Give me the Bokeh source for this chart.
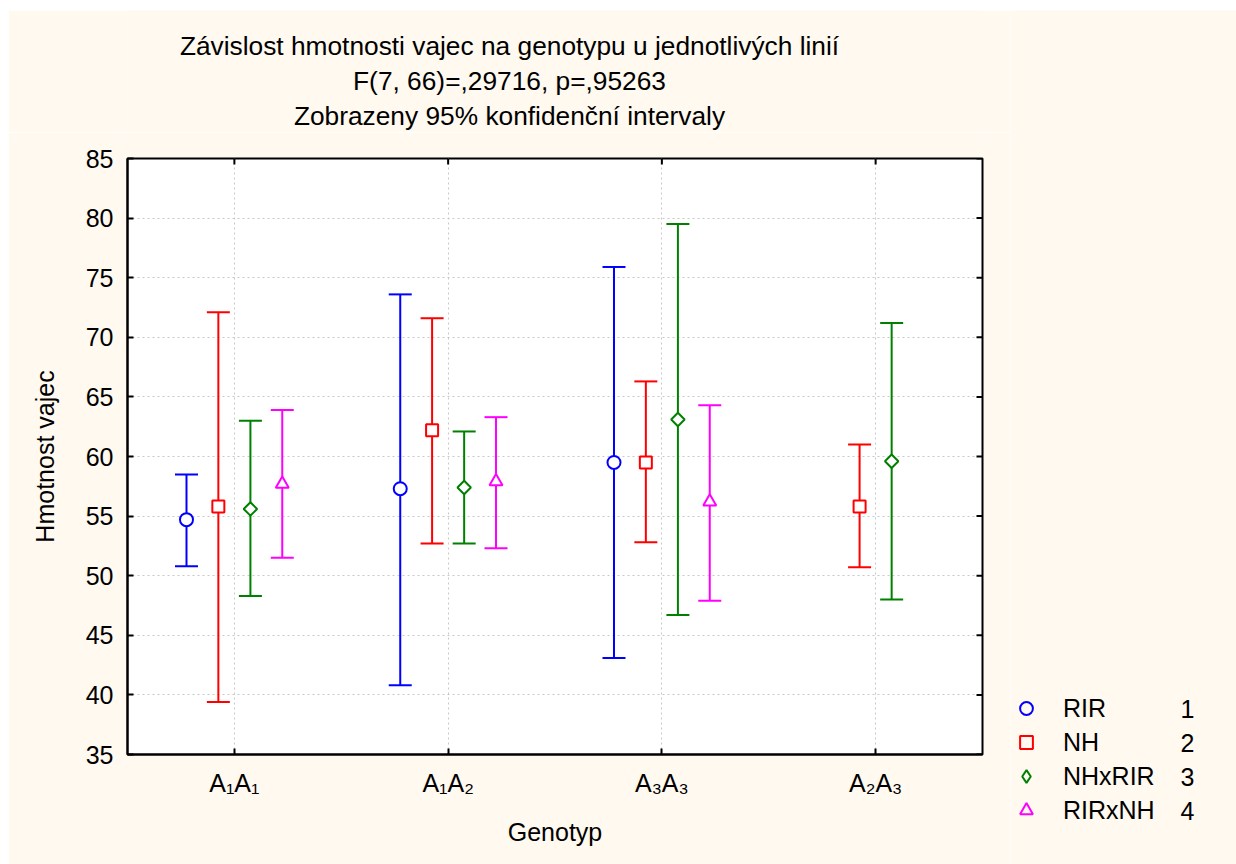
from bokeh.plotting import figure
from bokeh.models import (ColumnDataSource, FixedTicker, Label, Legend, LegendItem,
                          Range1d, Spacer)
from bokeh.layouts import row, column
from bokeh.embed import file_html
from bokeh.resources import INLINE
import numpy as np

# ---------------- data ----------------
categories = ["A\u2081A\u2081", "A\u2081A\u2082", "A\u2083A\u2083", "A\u2082A\u2083"]
series_names = ["RIR", "NH", "NHxRIR", "RIRxNH"]
series_numbers = ["1", "2", "3", "4"]

rir_idx = [0, 1, 2]
rir_mean = [54.7, 57.3, 59.5]
rir_low = [50.8, 40.8, 43.1]
rir_high = [58.5, 73.6, 75.9]

nh_idx = [0, 1, 2, 3]
nh_mean = [55.8, 62.2, 59.5, 55.8]
nh_low = [39.4, 52.7, 52.8, 50.7]
nh_high = [72.1, 71.6, 66.3, 61.0]

nhxrir_idx = [0, 1, 2, 3]
nhxrir_mean = [55.6, 57.4, 63.1, 59.6]
nhxrir_low = [48.3, 52.7, 46.7, 48.0]
nhxrir_high = [63.0, 62.1, 79.5, 71.2]

rirxnh_idx = [0, 1, 2]
rirxnh_mean = [57.7, 57.9, 56.2]
rirxnh_low = [51.5, 52.3, 47.9]
rirxnh_high = [63.9, 63.3, 64.3]

y_ticks = [35, 40, 45, 50, 55, 60, 65, 70, 75, 80, 85]
titles = ["Závislost hmotnosti vajec na genotypu u jednotlivých linií",
          "F(7, 66)=,29716, p=,95263",
          "Zobrazeny 95% konfidenční intervaly"]
# --------------------------------------

FONT = "Liberation Sans"
BG = "#FFF9EF"
colors = ["#0000FF", "#FF0000", "#008000", "#FF00FF"]
offsets = [-0.224, -0.075, 0.075, 0.224]
markers = [("circle", 13, 0.0), ("square", 12, 0.0), ("square", 9.5, np.pi / 4),
           ("triangle", 13, 0.0)]
legend_markers = ["circle", "square", "diamond", "triangle"]

# ---------- title strip (page rows 10..132) ----------
TH = 122
pt = figure(width=1002, height=TH, output_backend="svg", toolbar_location=None,
            x_range=Range1d(127, 982), y_range=Range1d(0, TH),
            x_axis_location=None, y_axis_location=None,
            min_border=0, outline_line_color=None)
pt.background_fill_color = BG
pt.border_fill_color = BG
pt.grid.visible = False
for t, cy in zip(titles, [45, 80, 115]):
    pt.add_layout(Label(x=509, y=(10 + TH) - cy, text=t, text_font=FONT,
                        text_font_size="26.3px", text_baseline="middle",
                        text_align="center", text_color="black"))

# ---------- main plot (page rows 132..864) ----------
p = figure(width=1002, height=864 - 10 - TH, output_backend="svg", toolbar_location=None,
           x_range=Range1d(0.5, 4.5), y_range=Range1d(35, 85),
           min_border_left=119, min_border_right=28, min_border_top=158 - 10 - TH,
           min_border_bottom=110)
p.background_fill_color = "white"
p.border_fill_color = BG
p.outline_line_color = "black"
p.outline_line_width = 2

cat_pos = [1, 2, 3, 4]

def style_axis(ax):
    ax.axis_line_width = 2
    ax.axis_line_color = "black"
    ax.major_tick_in = 6
    ax.major_tick_out = 0
    ax.major_tick_line_width = 2
    ax.major_tick_line_color = "black"
    ax.minor_tick_line_color = None
    ax.major_label_text_font = FONT
    ax.major_label_text_font_size = "25px"
    ax.major_label_text_color = "black"
    ax.axis_label_text_font = FONT
    ax.axis_label_text_font_size = "25px"
    ax.axis_label_text_font_style = "normal"
    ax.axis_label_text_color = "black"

xax = p.xaxis[0]
xax.ticker = FixedTicker(ticks=cat_pos)
xax.major_label_overrides = {i + 1: c for i, c in enumerate(categories)}
xax.axis_label = "Genotyp"
style_axis(xax)
xax.major_label_standoff = 14
xax.axis_label_standoff = 18

yax = p.yaxis[0]
yax.ticker = FixedTicker(ticks=y_ticks)
yax.axis_label = "Hmotnost vajec"
style_axis(yax)
yax.major_label_standoff = 14
yax.axis_label_standoff = 24

# inward ticks on the top and right edges of the frame
p.ray(x=cat_pos, y=[85] * 4, length=6, length_units="screen", angle=-np.pi / 2,
      line_color="black", line_width=2)
p.ray(x=[4.5] * len(y_ticks), y=y_ticks, length=6, length_units="screen",
      angle=np.pi, line_color="black", line_width=2)

p.xgrid.ticker = FixedTicker(ticks=cat_pos)
p.ygrid.ticker = FixedTicker(ticks=y_ticks)
for g in (p.xgrid[0], p.ygrid[0]):
    g.grid_line_color = "#c8c8c8"
    g.grid_line_dash = "2 3"
    g.grid_line_width = 1

data = [
    (rir_idx, rir_mean, rir_low, rir_high),
    (nh_idx, nh_mean, nh_low, nh_high),
    (nhxrir_idx, nhxrir_mean, nhxrir_low, nhxrir_high),
    (rirxnh_idx, rirxnh_mean, rirxnh_low, rirxnh_high),
]
for k, (idx, mean, low, high) in enumerate(data):
    xs = [cat_pos[i] + offsets[k] for i in idx]
    src = ColumnDataSource(dict(x=xs, mean=mean, low=low, high=high))
    p.segment(x0="x", y0="low", x1="x", y1="high", source=src,
              line_color=colors[k], line_width=2)
    p.scatter(x="x", y="high", source=src, marker="dash", size=23,
              line_color=colors[k], line_width=2)
    p.scatter(x="x", y="low", source=src, marker="dash", size=23,
              line_color=colors[k], line_width=2)
    m, s, a = markers[k]
    p.scatter(x="x", y="mean", source=src, marker=m, size=s, angle=a,
              line_color=colors[k], line_width=2, fill_color="white")

# ---------- legend strip (page columns 1010..1236) ----------
LW, LH = 226, 854
pl = figure(width=LW, height=LH, output_backend="svg", toolbar_location=None,
            x_range=Range1d(0, LW), y_range=Range1d(0, LH),
            x_axis_location=None, y_axis_location=None,
            min_border=0, outline_line_color=None)
pl.background_fill_color = BG
pl.border_fill_color = BG
pl.grid.visible = False
leg_renderers = []
for k in range(4):
    # one point far outside the visible range: only its legend swatch is seen
    r = pl.scatter(x=[-500], y=[-500], marker=legend_markers[k], size=13,
                   line_color=colors[k], line_width=2, fill_color=BG)
    leg_renderers.append(r)
row_h = 34
top_center = 708
legend = Legend(items=[LegendItem(label=series_names[k], renderers=[leg_renderers[k]])
                       for k in range(4)],
                location=(0, 864 - (top_center - row_h // 2 + 4 * row_h)),
                glyph_width=32, glyph_height=row_h, label_height=row_h, spacing=0,
                padding=0, margin=0, label_standoff=21,
                border_line_color=None, background_fill_alpha=0,
                label_text_font=FONT, label_text_font_size="25px",
                label_text_color="black")
pl.add_layout(legend, "center")
for k in range(4):
    cy = top_center + k * row_h
    pl.add_layout(Label(x=1180 - 1010, y=864 - cy, text=series_numbers[k],
                        text_font=FONT, text_font_size="25px",
                        text_baseline="middle", text_align="left",
                        text_color="black"))

layout = column(Spacer(width=1236, height=10),
                row(Spacer(width=8, height=854), column(pt, p), pl))

open("out.html", "w").write(file_html(layout, INLINE))
